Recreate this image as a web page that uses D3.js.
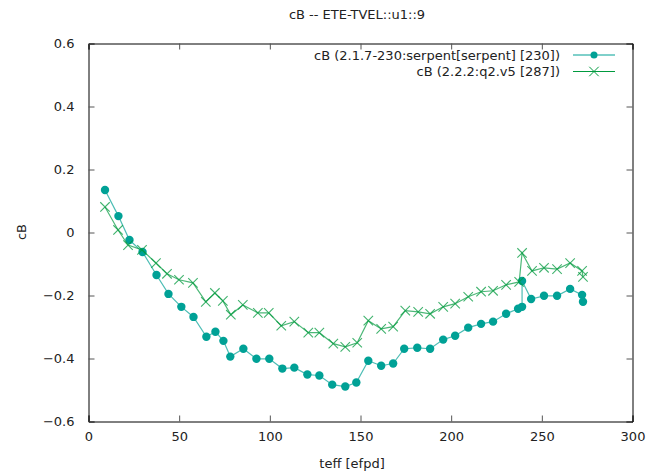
<!DOCTYPE html>
<html>
<head>
<meta charset="utf-8">
<script src="https://cdn.jsdelivr.net/npm/d3@7"></script>
<style>
body { margin: 0; background: #fff; }
text { font-family: "DejaVu Sans", sans-serif; font-size: 13px; fill: #222; }
</style>
</head>
<body>
<div id="chart"></div>
<script>
// data
var serpentX = [9.1, 16.5, 22.6, 29.8, 37.5, 44.1, 51.2, 57.9, 65.0, 70.0, 74.4, 78.2, 85.4, 92.6, 99.7,
  106.9, 113.5, 120.7, 127.3, 134.4, 141.6, 147.7, 154.3, 161.4, 168.0, 174.1, 181.3, 188.4, 195.6,
  202.2, 209.4, 216.5, 223.1, 230.3, 236.9, 239.1, 239.1, 244.1, 251.2, 258.4, 265.6, 272.2, 272.7]
var serpentY = [0.135, 0.052, -0.024, -0.062, -0.135, -0.195, -0.236, -0.268, -0.331, -0.315, -0.344, -0.394, -0.369, -0.401, -0.401,
  -0.432, -0.429, -0.451, -0.454, -0.483, -0.489, -0.476, -0.407, -0.423, -0.416, -0.369, -0.366, -0.369, -0.340,
  -0.328, -0.302, -0.290, -0.283, -0.258, -0.242, -0.236, -0.154, -0.211, -0.201, -0.201, -0.179, -0.198, -0.220]

var q2X = [9.1, 16.3, 21.8, 29.5, 37.2, 43.3, 49.9, 57.6, 64.7, 69.7, 74.1, 78.5, 85.1, 93.4, 99.4,
  106.3, 113.5, 121.2, 127.3, 135.0, 141.6, 148.2, 154.3, 161.4, 168.0, 174.7, 181.8, 188.4, 195.6,
  202.2, 209.4, 216.5, 223.1, 230.3, 237.5, 239.1, 244.6, 251.2, 258.4, 265.6, 272.2, 272.7]
var q2Y = [0.081, 0.008, -0.040, -0.055, -0.097, -0.131, -0.150, -0.160, -0.220, -0.192, -0.217, -0.261, -0.230, -0.255, -0.255,
  -0.296, -0.283, -0.318, -0.318, -0.353, -0.363, -0.350, -0.280, -0.306, -0.299, -0.248, -0.252, -0.258, -0.236,
  -0.226, -0.204, -0.188, -0.185, -0.166, -0.157, -0.065, -0.122, -0.112, -0.116, -0.097, -0.122, -0.141]

var seriesNames = ["cB (2.1.7-230:serpent[serpent] [230])", "cB (2.2.2:q2.v5 [287])"]
var xTicks = [0, 50, 100, 150, 200, 250, 300]
var yTicks = [-0.6, -0.4, -0.2, 0, 0.2, 0.4, 0.6]

var w = 655, h = 471
var teal = "#00a196", green = "#009a3e"

var svg = d3.select("#chart").append("svg")
  .attr("width", w)
  .attr("height", h)

var x = d3.scaleLinear().domain([0, 300]).range([88.5, 632.5])
var y = d3.scaleLinear().domain([-0.6, 0.6]).range([421.5, 43.5])

// inward ticks on all four sides, labels only on left/bottom
svg.append("g")
  .attr("transform", "translate(0," + y(-0.6) + ")")
  .call(d3.axisBottom(x).tickValues(xTicks).tickSize(-6).tickPadding(10).tickFormat(d3.format("d")))
svg.append("g")
  .attr("transform", "translate(0," + y(0.6) + ")")
  .call(d3.axisTop(x).tickValues(xTicks).tickSize(-6).tickFormat(""))
svg.append("g")
  .attr("transform", "translate(" + x(0) + ",0)")
  .call(d3.axisLeft(y).tickValues(yTicks).tickSize(-6).tickPadding(14).tickFormat(function(d) { return d3.format("")(+d.toFixed(1)) }))
svg.append("g")
  .attr("transform", "translate(" + x(300) + ",0)")
  .call(d3.axisRight(y).tickValues(yTicks).tickSize(-6).tickFormat(""))

svg.selectAll(".domain").attr("stroke", "#000")
svg.selectAll(".tick line").attr("stroke", "#555")
svg.selectAll(".tick text").style("font-size", "13px").attr("fill", "#222").style("font-family", "DejaVu Sans, sans-serif")

var line = d3.line()
  .x(function(d) { return x(d[0]) })
  .y(function(d) { return y(d[1]) })

var serpent = d3.zip(serpentX, serpentY)
var q2 = d3.zip(q2X, q2Y)

svg.append("path")
  .datum(serpent)
  .attr("d", line)
  .attr("fill", "none")
  .attr("stroke", teal)
  .attr("stroke-opacity", 0.7)
  .attr("stroke-width", 1.2)

svg.selectAll(".dot")
  .data(serpent)
  .enter()
  .append("circle")
  .classed("dot", true)
  .attr("cx", function(d) { return x(d[0]) })
  .attr("cy", function(d) { return y(d[1]) })
  .attr("r", 4.2)
  .style("fill", teal)

svg.append("path")
  .datum(q2)
  .attr("d", line)
  .attr("fill", "none")
  .attr("stroke", green)
  .attr("stroke-opacity", 0.7)
  .attr("stroke-width", 1.2)

var cross = d3.symbol().type(d3.symbolX).size(60)
svg.selectAll(".cross")
  .data(q2)
  .enter()
  .append("path")
  .classed("cross", true)
  .attr("d", cross)
  .attr("transform", function(d) { return "translate(" + x(d[0]) + "," + y(d[1]) + ")" })
  .attr("fill", "none")
  .attr("stroke", green)
  .attr("stroke-opacity", 0.75)
  .attr("stroke-width", 1.1)

// legend
var legend = svg.append("g")
seriesNames.forEach(function(name, i) {
  var ly = 55 + i * 16.5
  legend.append("text")
    .attr("x", 560).attr("y", ly).attr("dy", "0.35em")
    .attr("text-anchor", "end")
    .text(name)
  legend.append("line")
    .attr("x1", 573).attr("x2", 615).attr("y1", ly).attr("y2", ly)
    .attr("stroke", i == 0 ? teal : green)
  if (i == 0) {
    legend.append("circle").attr("cx", 594).attr("cy", ly).attr("r", 3.5).style("fill", teal)
  } else {
    legend.append("path").attr("d", cross)
      .attr("transform", "translate(594," + ly + ")")
      .attr("fill", "none").attr("stroke", green).attr("stroke-width", 1)
  }
})

// titles
svg.append("text")
  .attr("x", 357).attr("y", 19)
  .attr("text-anchor", "middle")
  .text("cB -- ETE-TVEL::u1::9")
svg.append("text")
  .attr("x", 352).attr("y", 468)
  .attr("text-anchor", "middle")
  .text("teff [efpd]")
svg.append("text")
  .attr("transform", "translate(26,232) rotate(-90)")
  .attr("text-anchor", "middle")
  .text("cB")
</script>
</body>
</html>
